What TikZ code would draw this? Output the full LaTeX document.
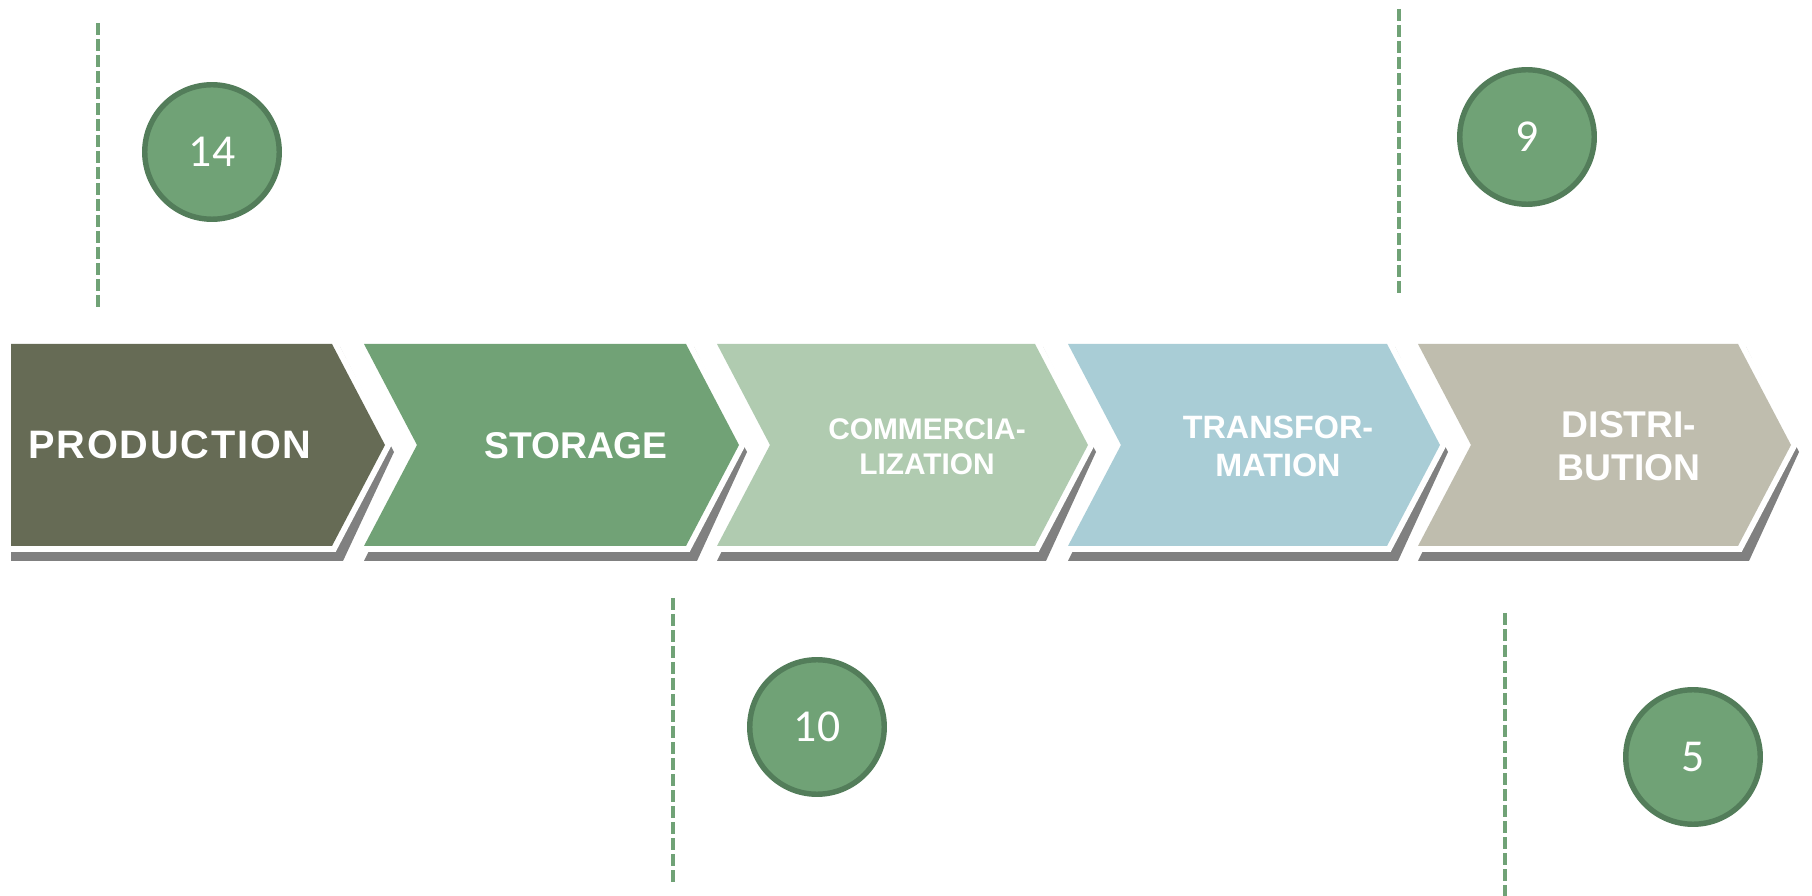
\documentclass[tikz,border=0pt]{standalone}
\usepackage{fontspec}
\setmainfont{Liberation Sans}
\newfontfamily\numfont{Carlito}
\definecolor{prodcol}{HTML}{666B55}
\definecolor{storcol}{HTML}{71A276}
\definecolor{commcol}{HTML}{B0CBB0}
\definecolor{transcol}{HTML}{A9CDD6}
\definecolor{distcol}{HTML}{BFBDAE}
\definecolor{shadegray}{HTML}{808080}
\definecolor{ringfill}{HTML}{70A276}
\definecolor{ringline}{HTML}{537D5A}
\tikzset{
	stage/.style={fill=#1, preaction={draw=white, line width=0.24cm, line join=miter}},
	shade/.style={fill=shadegray},
	phase/.style 2 args={text=white, align=center, inner sep=0pt, font=\bfseries\fontsize{#1}{#2}\selectfont},
	count/.style={circle, fill=ringfill, draw=ringline, line width=3.1pt, minimum size=2.69cm, inner sep=0pt, text=white, font=\numfont\fontsize{26}{30}\selectfont},
	marker/.style={draw=ringfill, line width=0.08cm, dash pattern=on 0.24cm off 0.08cm}
}

\begin{document}
\begin{tikzpicture}
	\useasboundingbox (0,0) rectangle (36.24,17.92);
	% production
	\fill[shade] (0.22,10.98) -- (6.80,10.98) -- (7.88,8.88) -- (6.86,6.70) -- (0.22,6.70) -- cycle;
	\path[stage=prodcol] (0.22,11.04) -- (6.64,11.04) -- (7.70,9.02) -- (6.64,7.00) -- (0.22,7.00) -- cycle;
	% storage
	\fill[shade] (7.28,10.98) -- (13.88,10.98) -- (14.94,8.88) -- (13.94,6.70) -- (7.28,6.70) -- (8.34,8.88) -- cycle;
	\path[stage=storcol] (7.28,11.04) -- (13.72,11.04) -- (14.78,9.02) -- (13.72,7.00) -- (7.28,7.00) -- (8.34,9.02) -- cycle;
	% commercialization
	\fill[shade] (14.34,10.98) -- (20.86,10.98) -- (21.92,8.88) -- (20.92,6.70) -- (14.34,6.70) -- (15.40,8.88) -- cycle;
	\path[stage=commcol] (14.34,11.04) -- (20.70,11.04) -- (21.76,9.02) -- (20.70,7.00) -- (14.34,7.00) -- (15.40,9.02) -- cycle;
	% transformation
	\fill[shade] (21.36,10.98) -- (27.90,10.98) -- (28.96,8.88) -- (27.96,6.70) -- (21.36,6.70) -- (22.42,8.88) -- cycle;
	\path[stage=transcol] (21.36,11.04) -- (27.74,11.04) -- (28.80,9.02) -- (27.74,7.00) -- (21.36,7.00) -- (22.42,9.02) -- cycle;
	% distribution
	\fill[shade] (28.36,10.98) -- (34.92,10.98) -- (35.98,8.88) -- (34.98,6.70) -- (28.36,6.70) -- (29.42,8.88) -- cycle;
	\path[stage=distcol] (28.36,11.04) -- (34.76,11.04) -- (35.82,9.02) -- (34.76,7.00) -- (28.36,7.00) -- (29.42,9.02) -- cycle;
	\node[phase={22.6}{26}] (prod) at (3.40,9.02) {\addfontfeature{LetterSpace=4.5}PRODUCTION};
	\node[phase={21.2}{26}] (stor) at (11.52,9.00) {STORAGE};
	\node[phase={17}{19.9}] (comm) at (18.54,8.99) {COMMERCIA-\\LIZATION};
	\node[phase={18.4}{21.6}] (trans) at (25.56,9.00) {TRANSFOR-\\MATION};
	\node[phase={21.2}{24.5}] (dist) at (32.58,8.99) {DISTRI-\\BUTION};
	% dashed markers
	\coordinate (m1top) at (1.96,17.46);
	\coordinate (m1bot) at (1.96,11.78);
	\coordinate (m2top) at (27.98,17.74);
	\coordinate (m2bot) at (27.98,12.06);
	\coordinate (m3top) at (13.46,5.96);
	\coordinate (m3bot) at (13.46,0.26);
	\coordinate (m4top) at (30.10,5.66);
	\coordinate (m4bot) at (30.10,0);
	\draw[marker] (m1top) -- (m1bot);
	\draw[marker] (m2top) -- (m2bot);
	\draw[marker] (m3top) -- (m3bot);
	\draw[marker] (m4top) -- (m4bot);
	% counts
	\node[count] (c14) at (4.24,14.88) {14};
	\node[count] (c9) at (30.54,15.18) {9};
	\node[count] (c10) at (16.34,3.38) {10};
	\node[count] (c5) at (33.86,2.78) {5};
\end{tikzpicture}
\end{document}
